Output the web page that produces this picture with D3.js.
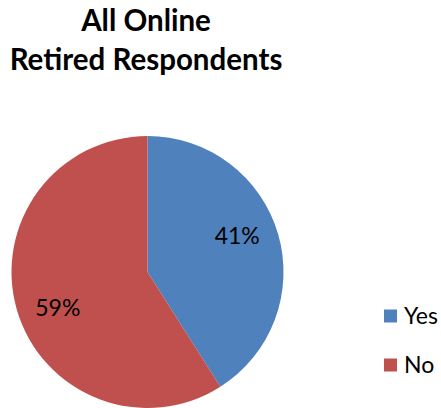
<!DOCTYPE html>
<html><head><meta charset="utf-8">
<script src="https://cdn.jsdelivr.net/npm/d3@7"></script>
<style>body{margin:0;background:#fff}svg{display:block}</style>
</head><body>
<script>
const titleLines = ["All Online", "Retired Respondents"];
const categories = ["Yes", "No"];
const values = [41, 59];
const colors = ["#4F81BD", "#C0504D"];

const W = 441, H = 408;
const svg = d3.select("body").append("svg").attr("width", W).attr("height", H);
const font = "Lato, 'Open Sans', sans-serif";

svg.append("g").selectAll("text").data(titleLines).join("text")
  .attr("x", 146).attr("y", (d, i) => 31 + i * 39)
  .attr("text-anchor", "middle")
  .style("font-family", font).style("font-weight", "bold").style("font-size", "29.5px")
  .attr("fill", "#000").text(d => d);

const cx = 147.5, cy = 272, r = 136;
const data = categories.map((c, i) => ({ cat: c, value: values[i], color: colors[i] }));
const pie = d3.pie().value(d => d.value).sort(null);
const arc = d3.arc().innerRadius(0).outerRadius(r);
const g = svg.append("g").attr("transform", `translate(${cx},${cy})`);
const arcs = pie(data);
g.selectAll("path").data(arcs).join("path")
  .attr("d", arc).attr("fill", d => d.data.color);
// label placement: slightly rotated counter-clockwise from the slice mid-angle, like the original
const labelPos = d => {
  const a = (d.startAngle + d.endAngle) / 2 - 5.5 * Math.PI / 180;
  const rr = r * 0.71;
  return [rr * Math.sin(a), -rr * Math.cos(a)];
};
g.selectAll("text").data(arcs).join("text")
  .attr("transform", d => `translate(${labelPos(d)})`)
  .attr("text-anchor", "middle").attr("dy", "0.35em")
  .style("font-family", font).style("font-size", "23px").attr("fill", "#000")
  .text(d => d.data.value + "%");

const lg = svg.append("g");
const ly = d3.scalePoint().domain(categories).range([316, 365]);
lg.selectAll("rect").data(categories).join("rect")
  .attr("x", 384).attr("y", d => ly(d) - 6.5).attr("width", 13).attr("height", 13)
  .attr("fill", (d, i) => colors[i]);
lg.selectAll("text").data(categories).join("text")
  .attr("x", 404).attr("y", d => ly(d)).attr("dy", "0.36em")
  .style("font-family", font).style("font-size", "23px").attr("fill", "#000")
  .text(d => d);
</script>
</body></html>
